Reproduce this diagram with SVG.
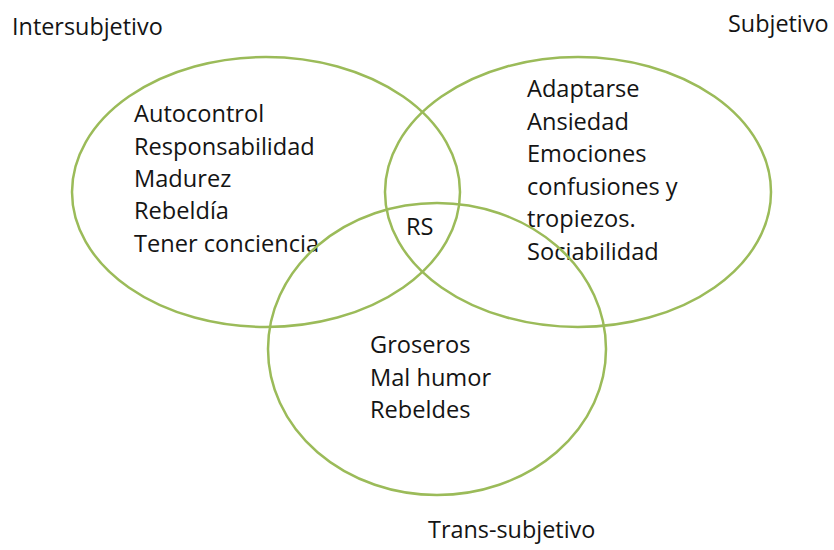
<svg xmlns="http://www.w3.org/2000/svg" width="834" height="550" viewBox="0 0 834 550">
<style>
.ring{fill:none;stroke:#9BBB59;stroke-width:2.5}
.t{font-family:"Open Sans","DejaVu Sans",sans-serif;font-size:23.6px;fill:#141414}
.h{font-family:"Open Sans","DejaVu Sans",sans-serif;font-size:23.4px;fill:#141414}
</style>
<rect width="834" height="550" fill="#ffffff"/>
<g id="connectors"></g>
<g id="intersubjetivo">
<ellipse class="ring" cx="266" cy="192" rx="194" ry="135"/>
<text class="h" x="12" y="35">Intersubjetivo</text>
<text class="t" x="134" y="122">Autocontrol</text>
<text class="t" x="134" y="155">Responsabilidad</text>
<text class="t" x="134" y="187">Madurez</text>
<text class="t" x="134" y="219">Rebeldía</text>
<text class="t" x="134" y="252">Tener conciencia</text>
</g>
<g id="subjetivo">
<ellipse class="ring" cx="578" cy="192" rx="193" ry="135"/>
<text class="h" x="728" y="32">Subjetivo</text>
<text class="t" x="527" y="97">Adaptarse</text>
<text class="t" x="527" y="129.5">Ansiedad</text>
<text class="t" x="527" y="162">Emociones</text>
<text class="t" x="527" y="194.5">confusiones y</text>
<text class="t" x="527" y="227">tropiezos.</text>
<text class="t" x="527" y="259.5">Sociabilidad</text>
</g>
<g id="trans-subjetivo">
<ellipse class="ring" cx="437" cy="349" rx="169" ry="146"/>
<text class="h" x="428" y="538">Trans-subjetivo</text>
<text class="t" x="370" y="353">Groseros</text>
<text class="t" x="370" y="385.5">Mal humor</text>
<text class="t" x="370" y="418">Rebeldes</text>
</g>
<g id="rs">
<text class="t" x="406" y="235">RS</text>
</g>
</svg>
